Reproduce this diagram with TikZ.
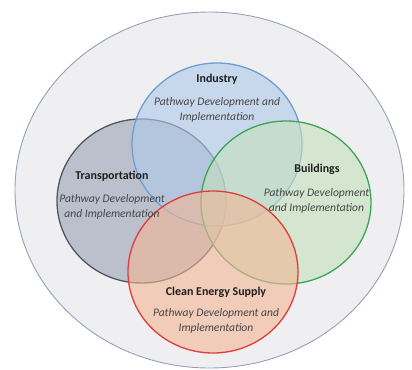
\documentclass[tikz,border=0pt]{standalone}
\usepackage{fontspec}
\setmainfont{Carlito}
\begin{document}
\begin{tikzpicture}[x=1bp,y=-1bp,
  sector/.style={line width=1.3bp, fill opacity=0.6},
  title/.style={font=\bfseries\fontsize{12}{14}\selectfont, text=black!88},
  body/.style={font=\itshape\fontsize{11.6}{15}\selectfont, text=black!72, align=center}]
  \useasboundingbox (0,0) rectangle (412,370);
  % outer field
  \draw[fill={rgb,255:red,239;green,239;blue,241}, draw={rgb,255:red,150;green,160;blue,182}, line width=0.9bp]
    (209.5,190) ellipse [x radius=194.5, y radius=178];
  % the four sectors
  \draw[sector, fill={rgb,255:red,154;green,162;blue,180}, draw={rgb,255:red,80;green,86;blue,98}]
    (141.5,201) ellipse [x radius=84.5, y radius=82];
  \draw[sector, fill={rgb,255:red,174;green,202;blue,233}, draw={rgb,255:red,108;green,159;blue,210}]
    (217,144.5) ellipse [x radius=85, y radius=81.5];
  \draw[sector, fill={rgb,255:red,197;green,224;blue,186}, draw={rgb,255:red,58;green,166;blue,85}]
    (286,202.5) ellipse [x radius=85, y radius=81.5];
  \draw[sector, fill={rgb,255:red,242;green,182;blue,149}, draw={rgb,255:red,224;green,60;blue,60}]
    (213,272) ellipse [x radius=85, y radius=81];
  % labels
  \node[title] (ind) at (217,79) {Industry};
  \node[body] (indt) at (217,109.5) {Pathway Development and\\Implementation};
  \node[title] (tra) at (112,176) {Transportation};
  \node[body] (trat) at (112,206.5) {Pathway Development\\and Implementation};
  \node[title] (bld) at (317,169) {Buildings};
  \node[body] (bldt) at (316.5,200.5) {Pathway Development\\and Implementation};
  \node[title] (ces) at (216,292) {Clean Energy Supply};
  \node[body] (cest) at (216,320.5) {Pathway Development and\\Implementation};
\end{tikzpicture}
\end{document}
